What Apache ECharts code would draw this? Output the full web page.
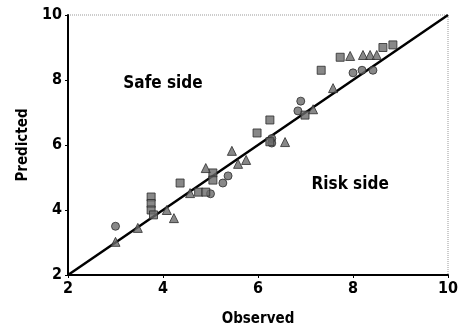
<!DOCTYPE html>
<html><head><meta charset="utf-8">
<script src="https://cdn.jsdelivr.net/npm/echarts@6/dist/echarts.min.js"></script>
<style>html,body{margin:0;padding:0;background:#fff}#c{width:462px;height:332px}</style>
</head><body><div id="c"></div>
<script>
const xTicks = [2, 4, 6, 8, 10];
const yTicks = [2, 4, 6, 8, 10];
const circles = [[3.0,3.5],[5.0,4.5],[5.26,4.83],[5.37,5.05],[6.29,6.2],[6.29,6.06],[6.9,7.35],[6.84,7.05],[8.0,8.22],[8.19,8.3],[8.42,8.3]];
const squares = [[3.75,4.4],[3.75,4.2],[3.75,4.0],[3.8,3.85],[4.36,4.83],[4.75,4.55],[4.9,4.55],[5.05,5.14],[5.05,4.92],[5.98,6.37],[6.25,6.77],[6.25,6.1],[6.99,6.92],[7.33,8.3],[7.73,8.7],[8.63,9.0],[8.84,9.08]];
const triangles = [[3.0,3.02],[3.47,3.45],[4.08,4.0],[4.23,3.75],[4.57,4.52],[4.9,5.29],[5.45,5.82],[5.58,5.42],[5.75,5.54],[6.57,6.09],[7.16,7.1],[7.58,7.75],[7.94,8.74],[8.21,8.77],[8.36,8.77],[8.5,8.77]];
const lineData = [[2,2],[10,10]];
const annotTexts = ['Safe side', 'Risk side'];
const annotPos = [[4.0,7.9],[7.94,4.77]];

const FONT = "'DejaVu Sans Condensed','Liberation Sans Narrow',sans-serif";
const mk = {color:'#6a6a6a', borderColor:'#2a2a2a', borderWidth:1};
const chart = echarts.init(document.getElementById('c'));
chart.setOption({
  animation:false,
  grid:{left:68,right:14,top:15,bottom:57,show:true,borderColor:'#999',borderWidth:1,borderType:'dotted'},
  xAxis:{type:'value',min:xTicks[0],max:xTicks[xTicks.length-1],interval:2,
    name:'Observed',nameLocation:'middle',nameGap:37,
    nameTextStyle:{fontFamily:FONT,fontWeight:'bold',fontSize:15,color:'#000'},
    axisLine:{lineStyle:{color:'#000',width:2}},axisTick:{show:true,length:3,lineStyle:{color:'#000'}},
    axisLabel:{fontFamily:FONT,fontWeight:'bold',fontSize:16,color:'#000',margin:6},
    splitLine:{show:false}},
  yAxis:{type:'value',min:yTicks[0],max:yTicks[yTicks.length-1],interval:2,
    name:'Predicted',nameLocation:'middle',nameGap:37,
    nameTextStyle:{fontFamily:FONT,fontWeight:'bold',fontSize:15,color:'#000'},
    axisLine:{lineStyle:{color:'#000',width:2}},axisTick:{show:true,length:3,lineStyle:{color:'#000'}},
    axisLabel:{fontFamily:FONT,fontWeight:'bold',fontSize:16,color:'#000',margin:6},
    splitLine:{show:false}},
  series:[
    {type:'line',data:lineData,symbol:'none',lineStyle:{color:'#000',width:2.5},z:3},
    {type:'scatter',data:circles,symbol:'circle',symbolSize:8,itemStyle:mk,z:4},
    {type:'scatter',data:squares,symbol:'rect',symbolSize:8,itemStyle:mk,z:4},
    {type:'scatter',data:triangles,symbol:'triangle',symbolSize:9,itemStyle:mk,z:4}
  ]
});
chart.setOption({graphic: annotTexts.map((t,i)=>{
  const p = chart.convertToPixel({gridIndex:0}, annotPos[i]);
  return {type:'text',x:p[0],y:p[1],z:10,style:{text:t,fill:'#000',font:"bold 17px "+FONT,textAlign:'center',textVerticalAlign:'middle'}};
})});
</script></body></html>
